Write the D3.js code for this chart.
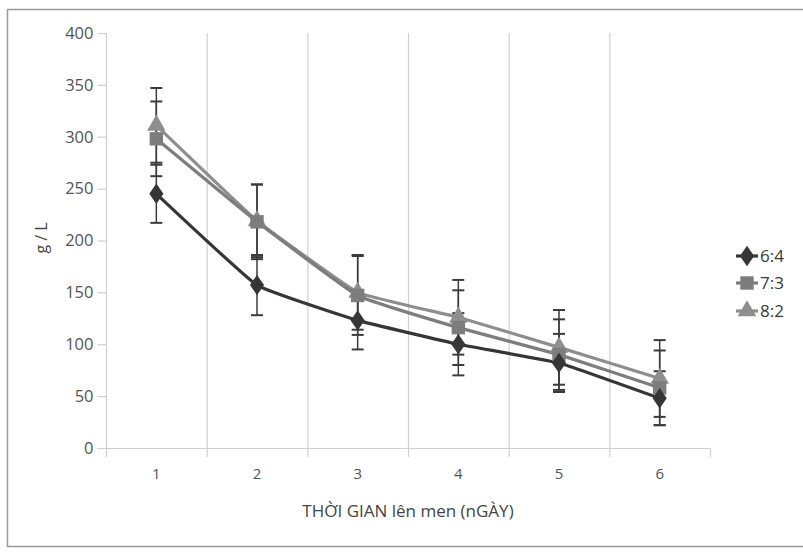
<!DOCTYPE html>
<html>
<head>
<meta charset="utf-8">
<script src="https://cdn.jsdelivr.net/npm/d3@7"></script>
<style>
  body { margin: 0; background: #fff; }
  text { font-family: "Open Sans", "Noto Sans", sans-serif; }
</style>
</head>
<body>
<div id="graph"></div>
<script>
const days = ["1", "2", "3", "4", "5", "6"];
const seriesNames = ["6:4", "7:3", "8:2"];
const val64 = [245, 157, 123, 100, 82, 48];
const err64 = [28, 29, 28, 30, 28, 26];
const val73 = [298, 218, 147, 116, 90, 58];
const err73 = [36, 36, 38, 36, 34, 36];
const val82 = [311, 219, 150, 126, 97, 67];
const err82 = [36, 35, 36, 36, 36, 37];
const yTicks = [0, 50, 100, 150, 200, 250, 300, 350, 400];

const fullwidth = 803;
const fullheight = 553;

const series = [
  {name: seriesNames[0], values: val64, errors: err64, color: "#363636", symbol: d3.symbolDiamond, size: 120},
  {name: seriesNames[1], values: val73, errors: err73, color: "#7d7d7d", symbol: d3.symbolSquare, size: 180},
  {name: seriesNames[2], values: val82, errors: err82, color: "#8e8e8e", symbol: d3.symbolTriangle, size: 150}
];

var svg = d3.select("#graph").
append("svg").
attr("width", fullwidth).
attr("height", fullheight);

// frame of the chart area
svg.append("rect").
attr("x", 7.5).
attr("y", 9.5).
attr("width", 806).
attr("height", 537).
attr("fill", "#fff").
attr("stroke", "#9a9a9a").
attr("stroke-width", 1.5);

var x = d3.scaleBand().domain(days).range([106, 710]);
var y = d3.scaleLinear().domain([0, 400]).range([448, 33]);

// vertical gridlines between categories
svg.selectAll("line.grid").
data(days.slice(1)).
enter().
append("line").
attr("class", "grid").
attr("x1", d => x(d) + 0.5).
attr("x2", d => x(d) + 0.5).
attr("y1", y(400)).
attr("y2", y(0) + 9).
attr("stroke", "#cfcfcf").
attr("stroke-width", 1.2);

// y axis
var yAxis = svg.append("g").
attr("transform", "translate(106.5,0)").
call(d3.axisLeft(y).tickValues(yTicks).tickSize(9).tickPadding(4));
yAxis.select(".domain").attr("stroke", "#cfcfcf").attr("stroke-width", 1.2).attr("d", "M0," + y(400) + "V" + (y(0) + 9));
yAxis.selectAll(".tick line").attr("stroke", "#cfcfcf").attr("stroke-width", 1.2);
yAxis.selectAll(".tick text").attr("fill", "#555").style("font-size", "16.5px");

// x axis
var xAxis = svg.append("g").
attr("transform", "translate(0," + (y(0) + 0.5) + ")").
call(d3.axisBottom(x).tickSize(0).tickPadding(20));
xAxis.select(".domain").attr("stroke", "#cfcfcf").attr("stroke-width", 1.2).attr("d", "M97,0H710.5V9");
xAxis.selectAll(".tick text").attr("fill", "#555").style("font-size", "15px");

// lines, lightly smoothed
var line = d3.line().
x((d, i) => x(days[i]) + x.bandwidth() / 2).
y(d => y(d)).
curve(d3.curveCardinal.tension(0.7));

series.slice().reverse().forEach(function (s) {
  svg.append("path").
  datum(s.values).
  attr("fill", "none").
  attr("stroke", s.color).
  attr("stroke-width", 3.2).
  attr("d", line);
});

// error bars
series.forEach(function (s) {
  var g = svg.append("g").attr("class", "errors");
  s.values.forEach(function (v, i) {
    var cx = x(days[i]) + x.bandwidth() / 2;
    var lo = y(v - s.errors[i]);
    var hi = y(v + s.errors[i]);
    g.append("line").attr("x1", cx).attr("x2", cx).attr("y1", lo).attr("y2", hi).
    attr("stroke", "#3c3c3c").attr("stroke-width", 1.5);
    [lo, hi].forEach(function (yy) {
      g.append("line").attr("x1", cx - 6).attr("x2", cx + 6).attr("y1", yy).attr("y2", yy).
      attr("stroke", "#3c3c3c").attr("stroke-width", 2);
    });
  });
});

// markers
series.slice().reverse().forEach(function (s) {
  svg.append("g").
  selectAll("path").
  data(s.values).
  enter().
  append("path").
  attr("d", d3.symbol().type(s.symbol).size(s.size)).
  attr("transform", (d, i) => "translate(" + (x(days[i]) + x.bandwidth() / 2) + "," + y(d) + ")" +
    (s.symbol === d3.symbolDiamond ? " scale(1.2,1)" : "")).
  attr("fill", s.color);
});

// axis titles
svg.append("text").
attr("x", 408).
attr("y", 517).
attr("text-anchor", "middle").
attr("fill", "#454545").
style("font-size", "17px").
text("THỜI GIAN lên men (nGÀY)");

svg.append("text").
attr("transform", "translate(47,238) rotate(-90)").
attr("text-anchor", "middle").
attr("fill", "#454545").
style("font-size", "16px").
text("g / L");

// legend
var legend = svg.append("g").attr("class", "legend");
var legendY = [256, 283, 311];
series.forEach(function (s, k) {
  legend.append("line").
  attr("x1", 736).attr("x2", 758).
  attr("y1", legendY[k]).attr("y2", legendY[k]).
  attr("stroke", s.color).attr("stroke-width", 3.2);
  legend.append("path").
  attr("d", d3.symbol().type(s.symbol).size(s.size)).
  attr("transform", "translate(747," + legendY[k] + ")" + (s.symbol === d3.symbolDiamond ? " scale(1.2,1)" : "")).
  attr("fill", s.color);
  legend.append("text").
  attr("x", 760).
  attr("y", legendY[k]).
  attr("dy", "0.35em").
  attr("fill", "#3a3a3a").
  style("font-size", "17px").
  text(s.name);
});
</script>
</body>
</html>
